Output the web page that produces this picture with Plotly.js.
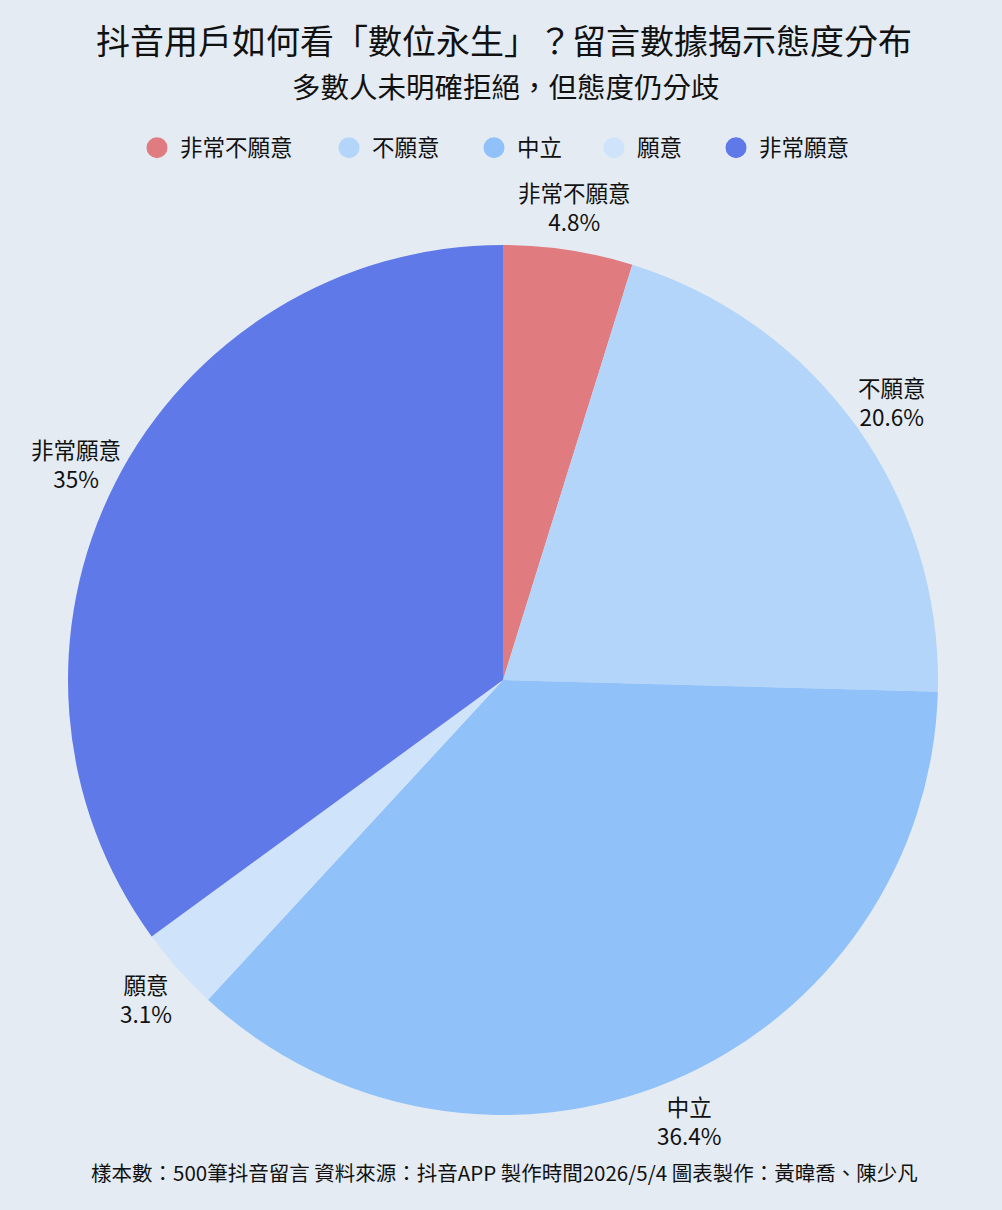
<!DOCTYPE html>
<html>
<head>
<meta charset="utf-8">
<script src="https://cdn.plot.ly/plotly-3.0.1.min.js"></script>
<style>
  html, body { margin: 0; padding: 0; background: #e4ebf2; }
  #chart { width: 1002px; height: 1210px; }
</style>
</head>
<body>
<div id="chart"></div>
<script>
// 抖音留言態度分布 (500 筆)
var attitudes = ['非常不願意', '不願意', '中立', '願意', '非常願意'];
var shares = [4.8, 20.6, 36.4, 3.1, 35];
var slice_colors = ['#e07b80', '#b3d5fa', '#90c1f9', '#cfe3fb', '#6079e8'];

var font_family = '"Noto Sans CJK TC", "Noto Sans", sans-serif';

// plot box in pixels
var W = 1002, H = 1210;
var m = {t: 245, b: 95, l: 4, r: 0};
var plotW = W - m.l - m.r;
var plotH = H - m.t - m.b;
var radius = Math.min(plotW, plotH) / 2;

// same percent format as plotly pie (3 significant digits)
function fmt_pct(v) {
    var txt = (v * 100).toPrecision(3);
    if (txt.indexOf('.') !== -1) txt = txt.replace(/[.]?0+$/, '');
    return txt + '%';
}

var data = [
  {
    type: 'pie',
    labels: attitudes,
    values: shares,
    sort: false,
    direction: 'clockwise',
    rotation: 0,
    textinfo: 'none',
    hoverinfo: 'label+percent',
    showlegend: false,
    marker: {
      colors: slice_colors,
      line: {width: 0}
    }
  }
];

// slice labels, placed along each slice's middle angle just outside the pie
var total = 0;
for (var i = 0; i < shares.length; i++) total += shares[i];

var annotations = [];
var cum = 0;
for (var i = 0; i < shares.length; i++) {
    var mid = (cum + shares[i] / 2) / total * 2 * Math.PI;
    cum += shares[i];
    var dist = radius * 1.1;
    annotations.push({
        text: attitudes[i] + '<br>' + fmt_pct(shares[i] / total),
        xref: 'paper', yref: 'paper',
        x: 0.5 + dist * Math.sin(mid) / plotW,
        y: 0.5 + dist * Math.cos(mid) / plotH,
        xanchor: 'center', yanchor: 'middle',
        showarrow: false,
        font: {size: 22.5, color: '#111111'}
    });
}

annotations.push({
    text: '多數人未明確拒絕，但態度仍分歧',
    xref: 'paper', yref: 'paper',
    x: 0.503, y: (H - m.b - 86) / plotH,
    xanchor: 'center', yanchor: 'middle',
    showarrow: false,
    font: {size: 28.5, color: '#111111'}
});
annotations.push({
    text: '樣本數：500筆抖音留言 資料來源：抖音APP 製作時間2026/5/4 圖表製作：黃暐喬、陳少凡',
    xref: 'paper', yref: 'paper',
    x: 0.502, y: (H - m.b - 1172) / plotH,
    xanchor: 'center', yanchor: 'middle',
    showarrow: false,
    font: {size: 20.5, color: '#111111'}
});

// round legend dots: empty scatter traces, one legend box per category
var legend_dot_x = [157, 349, 494, 614, 736];
var layout = {
  width: W,
  height: H,
  paper_bgcolor: '#e4ebf2',
  plot_bgcolor: '#e4ebf2',
  font: {family: font_family, color: '#111111'},
  margin: m,
  xaxis: {visible: false},
  yaxis: {visible: false},
  title: {
    text: '抖音用戶如何看「數位永生」？留言數據揭示態度分布',
    font: {size: 34, color: '#111111', family: font_family},
    x: 0.503,
    xanchor: 'center',
    y: 1 - 42 / H,
    yanchor: 'middle',
    yref: 'container'
  },
  showlegend: true,
  annotations: annotations
};

for (var i = 0; i < attitudes.length; i++) {
    var lg = i === 0 ? 'legend' : 'legend' + (i + 1);
    data.push({
        type: 'scatter',
        mode: 'markers',
        x: [null],
        y: [null],
        name: attitudes[i],
        legend: lg,
        hoverinfo: 'skip',
        marker: {
            symbol: 'circle', size: 16, color: slice_colors[i],
            line: {color: slice_colors[i], width: 5}
        }
    });
    layout[lg] = {
        orientation: 'h',
        x: (legend_dot_x[i] - 23 - m.l) / plotW,
        xanchor: 'left',
        y: (H - m.b - 148) / plotH,
        yanchor: 'middle',
        bgcolor: 'rgba(0,0,0,0)',
        font: {size: 22.5, color: '#111111'},
        itemwidth: 36
    };
}

var config = {responsive: false, displayModeBar: false};

Plotly.newPlot('chart', data, layout, config);
</script>
</body>
</html>
